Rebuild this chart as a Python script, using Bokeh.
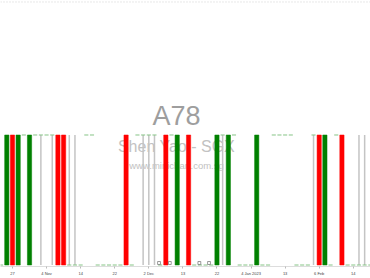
import math
from bokeh.plotting import figure
from bokeh.models import Range1d, FixedTicker, Label, Span, ColumnDataSource
from bokeh.embed import file_html
from bokeh.resources import INLINE

LO, HI = 0.003, 0.004
N = float("nan")

# trading-day index (-1 .. 64)
day_idx = list(range(-1, 65))
open_ = [LO, LO, HI, LO, HI, LO, HI, HI, HI, HI, HI, HI, LO, LO, LO, HI, HI, LO, LO, LO, LO, LO,
         HI, LO, HI, HI, HI, HI, LO, HI, HI, LO, N, HI, LO, LO, LO, LO, LO, HI, LO, HI, LO, LO,
         LO, LO, LO, LO, HI, HI, HI, HI, LO, LO, LO, HI, HI, LO, LO, HI, HI, LO, LO, LO, LO, LO]
close = [LO, HI, LO, HI, HI, HI, HI, HI, HI, HI, LO, LO, LO, LO, LO, HI, HI, LO, LO, LO, LO, LO,
         LO, LO, HI, HI, HI, HI, LO, LO, HI, HI, N, LO, LO, LO, LO, LO, HI, HI, HI, HI, LO, LO,
         LO, HI, LO, LO, HI, HI, HI, HI, LO, LO, LO, HI, LO, HI, LO, HI, LO, LO, LO, LO, LO, LO]
high = [LO, HI, HI, HI, HI, HI, HI, HI, HI, HI, HI, HI, HI, HI, LO, HI, HI, LO, LO, LO, LO, LO,
        HI, LO, HI, HI, HI, HI, LO, HI, HI, HI, N, HI, LO, LO, LO, LO, HI, HI, HI, HI, LO, LO,
        LO, HI, LO, LO, HI, HI, HI, HI, LO, LO, LO, HI, HI, HI, LO, HI, HI, LO, LO, HI, HI, LO]
low = [LO, LO, LO, LO, HI, LO, HI, LO, HI, LO, LO, LO, LO, LO, LO, HI, HI, LO, LO, LO, LO, LO,
       LO, LO, HI, LO, LO, LO, LO, LO, HI, LO, N, LO, LO, LO, LO, LO, LO, LO, LO, HI, LO, LO,
       LO, LO, LO, LO, HI, HI, HI, HI, LO, LO, LO, LO, LO, LO, LO, HI, LO, LO, LO, LO, LO, LO]

tick_pos = [1, 7, 13, 19, 25, 31, 37, 43, 49, 55, 61]
tick_labels = ["27", "4 Nov", "14", "22", "2 Dec", "13", "22", "4 Jan 2023", "13", "6 Feb", "14"]

event_x = [26.8, 28.7, 33.9, 35.6]

W, H = 370, 278
frame_h = 267
k = (HI - LO) / 130.5
y0 = LO - 1.5 * k
y1 = LO + (frame_h - 1.5) * k

p = figure(width=W, height=H, output_backend="svg", toolbar_location=None,
           x_range=Range1d(-1.11, 64.03), y_range=Range1d(y0, y1),
           min_border=0, min_border_left=0, min_border_right=0, min_border_top=0)
p.yaxis.visible = False
p.grid.visible = False
p.outline_line_color = None
p.background_fill_color = "white"
p.border_fill_color = "white"

GREEN, RED, GRAY, FLAT = "#008000", "#ff0000", "#c4c4c4", "#86c486"

# watermark
for txt, yy, size, col in [("A78", frame_h - 116.5, "27px", "#9e9e9e"),
                           ("Shen Yao - SGX", frame_h - 147, "16px", "#c2c2c2"),
                           ("www.minichart.com.sg", frame_h - 166, "9.5px", "#c2c2c2")]:
    p.add_layout(Label(x=176, y=yy, x_units="screen", y_units="screen", text=txt,
                       text_align="center", text_baseline="middle", text_font="Liberation Sans",
                       text_font_size=size, text_color=col, level="underlay"))

p.add_layout(Span(location=y1 - 1.5 * k, dimension="width", line_color="#d0d0d0",
                  line_dash="1 2", line_width=1))

wick_x, wick_lo, wick_hi = [], [], []
up = {"x": [], "b": [], "t": []}
dn = {"x": [], "b": [], "t": []}
fx0, fx1, fy = [], [], []
for x, o, h, l, c in zip(day_idx, open_, high, low, close):
    if math.isnan(o):
        continue
    if c > o:
        up["x"].append(x); up["b"].append(o); up["t"].append(c)
    elif c < o:
        dn["x"].append(x); dn["b"].append(c); dn["t"].append(o)
    else:
        if h > l:
            wick_x.append(x); wick_lo.append(l); wick_hi.append(h)
        fx0.append(x - 0.36); fx1.append(x + 0.36); fy.append(c)

p.segment(x0=wick_x, y0=wick_lo, x1=wick_x, y1=wick_hi, line_color=GRAY, line_width=1.5)
p.segment(x0=fx0, y0=fy, x1=fx1, y1=fy, line_color=FLAT, line_width=1)
p.vbar(x=up["x"], bottom=up["b"], top=up["t"], width=0.75, fill_color=GREEN, line_color=GREEN, line_width=0.5)
p.vbar(x=dn["x"], bottom=dn["b"], top=dn["t"], width=0.75, fill_color=RED, line_color=RED, line_width=0.5)
p.rect(x=event_x, y=[LO + 2 * k] * len(event_x), width=0.5, height=3, height_units="screen",
       fill_color=None, line_color="#808080", line_width=0.8)

ax = p.xaxis[0]
ax.ticker = FixedTicker(ticks=tick_pos)
ax.major_label_overrides = {t: s for t, s in zip(tick_pos, tick_labels)}
ax.major_label_text_font = "Liberation Sans"
ax.major_label_text_font_size = "4px"
ax.major_label_text_color = "#444444"
ax.major_label_standoff = 2
ax.axis_line_color = "#dddddd"
ax.major_tick_line_color = "#bbbbbb"
ax.major_tick_out = 2
ax.major_tick_in = 0
ax.minor_tick_line_color = None

open("out.html", "w").write(file_html(p, INLINE))
